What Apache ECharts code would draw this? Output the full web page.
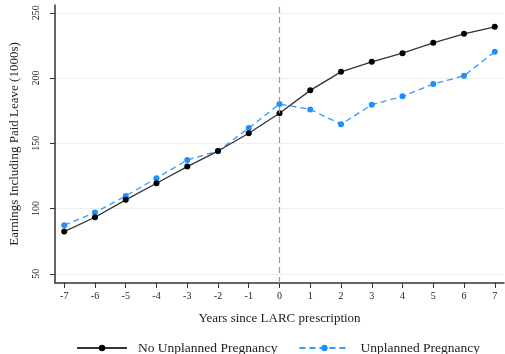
<!DOCTYPE html>
<html>
<head>
<meta charset="utf-8">
<script src="https://cdn.jsdelivr.net/npm/echarts@6/dist/echarts.min.js"></script>
<style>html,body{margin:0;padding:0;background:#fff;}#c{width:505px;height:354px;}</style>
</head>
<body>
<div id="c"></div>
<script>
var years = [-7,-6,-5,-4,-3,-2,-1,0,1,2,3,4,5,6,7];
var noUnplanned = [82.4,93.4,106.7,119.4,132.2,144.1,157.7,173.0,190.6,204.8,212.5,219.1,227.0,233.9,239.3];
var unplanned = [87.3,97.0,109.7,123.3,137.3,144.1,161.7,180.1,176.0,164.6,179.6,186.0,195.4,201.8,220.1];
var yTicks = [50,100,150,200,250];
var xTicks = years;

var font = 'Liberation Serif';
function pairs(vals){ return years.map(function(x,i){ return [x, vals[i]]; }); }

var chart = echarts.init(document.getElementById('c'), null, {renderer:'canvas'});
chart.setOption({
  animation:false,
  backgroundColor:'#fff',
  textStyle:{fontFamily:font},
  grid:{left:49,right:1,top:5,bottom:71,containLabel:false},
  xAxis:{
    type:'value', min:-7.3, max:7.3,
    name:'Years since LARC prescription', nameLocation:'middle', nameGap:29,
    nameTextStyle:{fontFamily:font,fontSize:13,color:'#222'},
    axisLine:{show:true,onZero:false,lineStyle:{color:'#333',width:1.5}},
    axisTick:{show:true,length:5,customValues:xTicks,lineStyle:{color:'#333'}},
    axisLabel:{customValues:xTicks,fontFamily:font,fontSize:10,color:'#222',margin:8},
    splitLine:{show:false}
  },
  yAxis:{
    type:'value', min:43, max:256,
    name:'Earnings Including Paid Leave (1000s)', nameLocation:'middle', nameGap:34,
    nameTextStyle:{fontFamily:font,fontSize:13,color:'#222'},
    axisLine:{show:true,onZero:false,lineStyle:{color:'#333',width:1.5}},
    axisTick:{show:true,length:5,customValues:yTicks,lineStyle:{color:'#333'}},
    axisLabel:{customValues:yTicks,fontFamily:font,fontSize:10,color:'#222',rotate:90,margin:14},
    splitLine:{show:true,lineStyle:{color:'#e8f0f0',width:1}}
  },
  legend:{
    top:336, left:71, itemWidth:50, itemHeight:8, itemGap:21,
    textStyle:{fontFamily:font,fontSize:13.5,color:'#222',padding:[0,0,0,6]},
    data:['No Unplanned Pregnancy','Unplanned Pregnancy']
  },
  series:[
    {
      name:'No Unplanned Pregnancy', type:'line', data:pairs(noUnplanned),
      symbol:'circle', symbolSize:6,
      itemStyle:{color:'#000'},
      lineStyle:{color:'#333',width:1.3,type:'solid'},
      z:3,
      markLine:{
        silent:true, symbol:'none', label:{show:false},
        lineStyle:{color:'#999',type:[6,4],width:1.2},
        data:[{xAxis:0}]
      }
    },
    {
      name:'Unplanned Pregnancy', type:'line', data:pairs(unplanned),
      symbol:'circle', symbolSize:6,
      itemStyle:{color:'#1e8fff'},
      lineStyle:{color:'#3399ff',width:1.3,type:[6,4]},
      z:2
    }
  ]
});
</script>
</body>
</html>
